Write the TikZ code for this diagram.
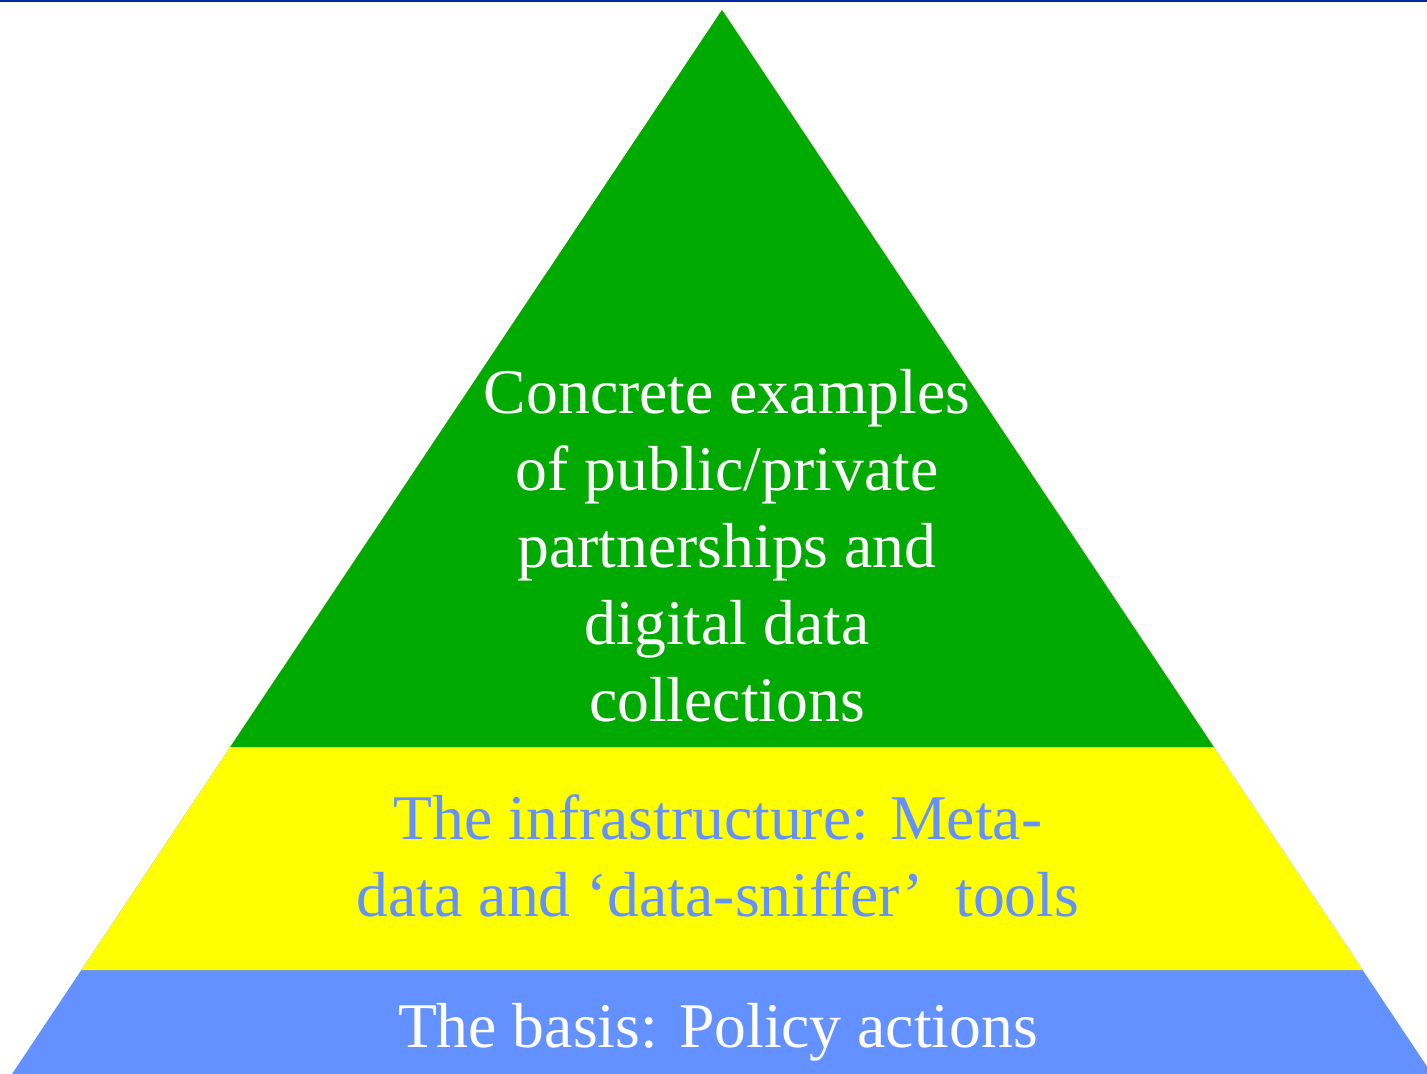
\documentclass[tikz,border=0pt]{standalone}
\usepackage{fontspec}
\setmainfont{Liberation Serif}
\usetikzlibrary{calc}
\definecolor{basisblue}{RGB}{99,145,255}
\definecolor{infrayellow}{RGB}{255,255,0}
\definecolor{topgreen}{RGB}{0,170,0}
\definecolor{rulenavy}{RGB}{0,40,160}
\begin{document}
\begin{tikzpicture}[x=0.01cm, y=-0.01cm,
	every node/.style = {align=center, inner sep=0pt,
		font=\fontsize{18.1}{21.9}\selectfont}]
	\useasboundingbox (0,0) rectangle (1427,1074);
	\coordinate (apex) at (722,10);
	\coordinate (bl) at (12,1074);
	\coordinate (br) at (1432,1074);
	\coordinate (yl) at ($(apex)!0.9023!(bl)$);
	\coordinate (yr) at ($(apex)!0.9023!(br)$);
	\coordinate (gl) at ($(apex)!0.6927!(bl)$);
	\coordinate (gr) at ($(apex)!0.6927!(br)$);
	% layers, bottom first
	\fill[basisblue] (apex) -- (bl) -- (br) -- cycle;
	\fill[infrayellow] (apex) -- (yl) -- (yr) -- cycle;
	\fill[topgreen] (apex) -- (gl) -- (gr) -- cycle;
	\draw[rulenavy, line width=1.2pt] (0,0) -- (1427,0);
	\node[white] (examples) at (727,546) {Concrete examples
		\\of public/private
		\\partnerships and
		\\digital data
		\\collections};
	\node[basisblue] (infra) at (718,856) {The infrastructure: Meta-
		\\data and ‘data-sniffer’\ \ tools};
	\node[white, anchor=base] (basis) at (718,1048) {The basis: Policy actions};
\end{tikzpicture}
\end{document}
